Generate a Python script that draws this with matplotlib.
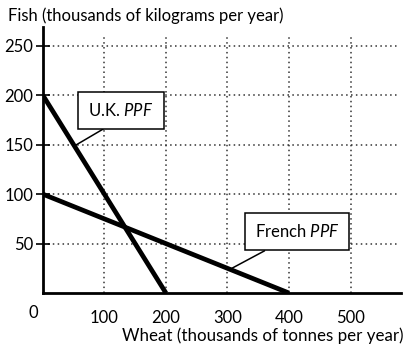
import matplotlib.pyplot as plt

# data (thousands)
uk_wheat = [0, 200]
uk_fish = [200, 0]
fr_wheat = [0, 400]
fr_fish = [100, 0]

x_ticks = [100, 200, 300, 400, 500]
y_ticks = [50, 100, 150, 200, 250]

plt.rcParams['font.family'] = ['Lato', 'DejaVu Sans']
plt.rcParams['mathtext.fontset'] = 'custom'
plt.rcParams['mathtext.it'] = 'Lato:italic'
plt.rcParams['mathtext.rm'] = 'Lato'

fig = plt.figure(figsize=(4.08, 3.46), dpi=100)
ax = fig.add_axes([0.105, 0.153, 0.878, 0.769])
ax.set_xlim(0, 582)
ax.set_ylim(0, 269)

# dotted grid, stops at 250 / 580
for x in x_ticks:
    ax.plot([x, x], [0, 262], color='#333333', lw=1.1, ls=(0, (1, 2.2)), zorder=1)
for y in y_ticks:
    ax.plot([0, 575], [y, y], color='#333333', lw=1.1, ls=(0, (1, 2.2)), zorder=1)

ax.plot(uk_wheat, uk_fish, color='black', lw=3.4, solid_capstyle='butt', zorder=3)
ax.plot(fr_wheat, fr_fish, color='black', lw=3.4, solid_capstyle='butt', zorder=3)

for s in ['top', 'right']:
    ax.spines[s].set_visible(False)
ax.spines['left'].set_linewidth(2)
ax.spines['bottom'].set_linewidth(2)

ax.set_yticks(y_ticks)
ax.set_yticklabels([str(v) for v in y_ticks], fontsize=12)
ax.tick_params(axis='y', direction='inout', length=10, width=1.2, pad=2)
ax.set_xticks(x_ticks)
ax.set_xticklabels([str(v) for v in x_ticks], fontsize=12)
ax.tick_params(axis='x', length=0, pad=12)
ax.text(-16, -12, '0', fontsize=12, ha='center', va='top')

fig.text(0.02, 0.955, 'Fish (thousands of kilograms per year)', fontsize=12, va='center')
fig.text(0.988, 0.03, 'Wheat (thousands of tonnes per year)', fontsize=12.2, ha='right', va='center')

box = dict(boxstyle='square,pad=0.6', fc='white', ec='black', lw=1.1)
ax.annotate('U.K. $\\mathit{PPF}$', xy=(52, 149), xytext=(127, 185), fontsize=12,
            ha='center', va='center', bbox=box,
            arrowprops=dict(arrowstyle='-', color='black', lw=1.1, shrinkA=0, shrinkB=0,
                            relpos=(0.5, 0)), zorder=4)
ax.annotate('French $\\mathit{PPF}$', xy=(304, 24), xytext=(413, 62), fontsize=12,
            ha='center', va='center', bbox=box,
            arrowprops=dict(arrowstyle='-', color='black', lw=1.1, shrinkA=0, shrinkB=0,
                            relpos=(0.35, 0)), zorder=4)

fig.savefig('out.png', dpi=100)
